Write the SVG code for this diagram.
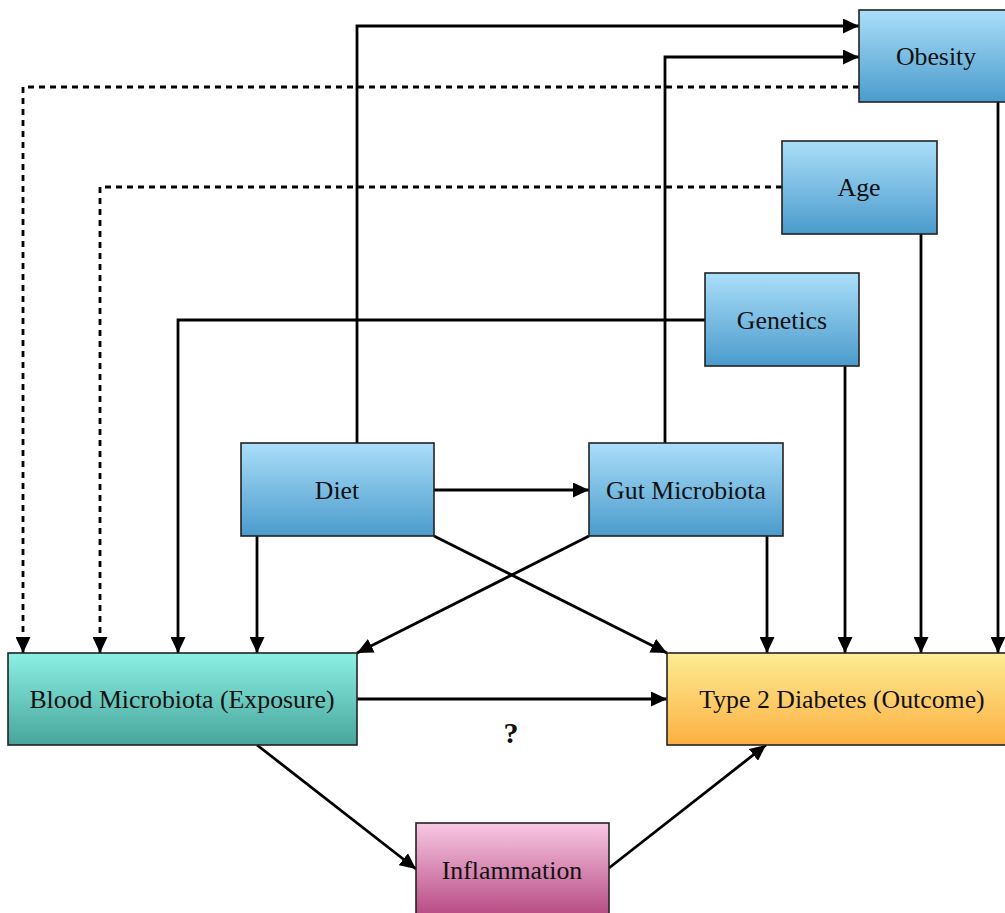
<svg xmlns="http://www.w3.org/2000/svg" width="1005" height="913" viewBox="0 0 1005 913">
<defs>
<linearGradient id="gBlue" x1="0" y1="0" x2="0" y2="1"><stop offset="0" stop-color="#abdef9"/><stop offset="1" stop-color="#4a9bcc"/></linearGradient>
<linearGradient id="gTeal" x1="0" y1="0" x2="0" y2="1"><stop offset="0" stop-color="#8cf0e3"/><stop offset="1" stop-color="#47a59c"/></linearGradient>
<linearGradient id="gYellow" x1="0" y1="0" x2="0" y2="1"><stop offset="0" stop-color="#fdec94"/><stop offset="1" stop-color="#fcb042"/></linearGradient>
<linearGradient id="gPink" x1="0" y1="0" x2="0" y2="1"><stop offset="0" stop-color="#f9c8e4"/><stop offset="1" stop-color="#b64a82"/></linearGradient>
<marker id="arr" markerUnits="userSpaceOnUse" markerWidth="17" markerHeight="15" refX="16" refY="7.5" orient="auto"><path d="M0,0 L16,7.5 L0,15 z" fill="#000"/></marker>
<style>
.box{stroke:#222;stroke-width:1.6}
.lbl{font-family:'Liberation Serif','Times New Roman',Tinos,'DejaVu Serif',serif;font-size:25.8px;fill:#111;text-anchor:middle}
.q{font-family:'Liberation Serif','Times New Roman',Tinos,'DejaVu Serif',serif;font-size:30px;font-weight:bold;fill:#111;text-anchor:middle}
.c{fill:none;stroke:#000;stroke-width:2.8;marker-end:url(#arr)}
.d{stroke-dasharray:6,5}
</style>
</defs>
<g id="connectors">
<path class="c" d="M357,443 V26 H859"/>
<path class="c" d="M665,443 V57 H859"/>
<path class="c d" d="M859,87 H23 V653"/>
<path class="c d" d="M782,187 H100 V653"/>
<path class="c" d="M705,320 H178 V653"/>
<path class="c" d="M257,536 V653"/>
<path class="c" d="M434,490 H589"/>
<path class="c" d="M434,536 L667,653"/>
<path class="c" d="M589,536 L357,653"/>
<path class="c" d="M767,536 V653"/>
<path class="c" d="M845,366 V653"/>
<path class="c" d="M921,234 V653"/>
<path class="c" d="M998,102 V653"/>
<path class="c" d="M357,699 H667"/>
<path class="c" d="M257,745 L416,869"/>
<path class="c" d="M609,868 L766,745"/>
<text class="q" x="511" y="743">?</text>
</g>
<g id="obesity"><rect class="box" x="859" y="10" width="155" height="92" fill="url(#gBlue)"/><text class="lbl" x="936" y="65">Obesity</text></g>
<g id="age"><rect class="box" x="782" y="141" width="155" height="93" fill="url(#gBlue)"/><text class="lbl" x="859" y="196">Age</text></g>
<g id="genetics"><rect class="box" x="705" y="273" width="154" height="93" fill="url(#gBlue)"/><text class="lbl" x="782" y="329">Genetics</text></g>
<g id="diet"><rect class="box" x="241" y="443" width="193" height="93" fill="url(#gBlue)"/><text class="lbl" x="337" y="499">Diet</text></g>
<g id="gut"><rect class="box" x="589" y="443" width="194" height="93" fill="url(#gBlue)"/><text class="lbl" x="686" y="499">Gut Microbiota</text></g>
<g id="blood"><rect class="box" x="8" y="653" width="349" height="92" fill="url(#gTeal)"/><text class="lbl" x="182" y="708">Blood Microbiota (Exposure)</text></g>
<g id="t2d"><rect class="box" x="667" y="653" width="350" height="92" fill="url(#gYellow)"/><text class="lbl" x="842" y="708">Type 2 Diabetes (Outcome)</text></g>
<g id="inflammation"><rect class="box" x="416" y="823" width="193" height="93" fill="url(#gPink)"/><text class="lbl" x="512" y="879">Inflammation</text></g>
</svg>
